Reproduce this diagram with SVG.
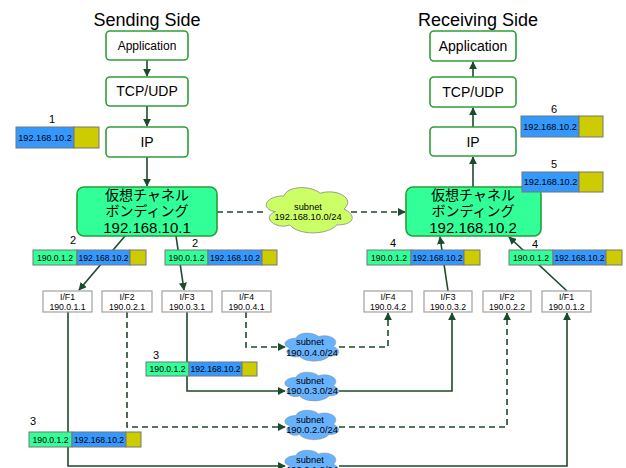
<svg xmlns="http://www.w3.org/2000/svg" width="626" height="468" viewBox="0 0 626 468">
<style>
text{font-family:"Liberation Sans","Noto Sans CJK JP",sans-serif;fill:#000;text-anchor:middle}
.title{font-size:18px}
.layer{fill:#fff;stroke:#2e9e3a;stroke-width:1.6}
.bond{fill:#33ff99;stroke:#22a03a;stroke-width:1.6}
.lt{font-size:12px}
.lt2{font-size:14px}
.jp{font-size:14px}
.pk{stroke:#777;stroke-width:1}
.g{fill:#33ff99}
.b{fill:#3399ff}
.y{fill:#cccc00}
.pt{font-size:9.2px}
.pt2{font-size:8.6px}
.num{font-size:11px}
.ifb{fill:#fff;stroke:#a0a0a0;stroke-width:1.2}
.it{font-size:8.7px}
.ct{font-size:9.3px}
.c{fill:none;stroke:#1c4a2c;stroke-width:1.6}
.d{stroke-dasharray:6 4}
.cg{fill:#ccff66;stroke:#888}
.cb{fill:#66b2ff;stroke:#888}
</style>
<defs>
<marker id="ar" viewBox="0 0 10 10" refX="9" refY="5" markerWidth="5" markerHeight="5" orient="auto" markerUnits="strokeWidth">
<path d="M0,0 L10,5 L0,10 z" fill="#1c4a2c"/>
</marker>
<path id="cloud" d="M 25 20 C 5 20 0 40 16 44 C 0 52.8 18 72 31 64 C 40 80 70 80 80 64 C 100 64 100 48 87.5 40 C 100 24 80 8 62.5 16 C 53.75 4 28.75 4 25 20 Z"/>
</defs>

<text class="title" x="147" y="26">Sending Side</text>
<text class="title" x="478" y="26">Receiving Side</text>

<g id="connectors">
<line class="c" x1="147" y1="60" x2="147" y2="76" marker-end="url(#ar)"/>
<line class="c" x1="147" y1="106" x2="147" y2="126" marker-end="url(#ar)"/>
<line class="c" x1="147" y1="157" x2="147" y2="186" marker-end="url(#ar)"/>
<line class="c" x1="473" y1="77" x2="473" y2="62" marker-end="url(#ar)"/>
<line class="c" x1="473" y1="127" x2="473" y2="108" marker-end="url(#ar)"/>
<line class="c" x1="473" y1="187" x2="473" y2="157" marker-end="url(#ar)"/>
<line class="c" x1="125" y1="236" x2="79" y2="290" marker-end="url(#ar)"/>
<line class="c" x1="176" y1="236" x2="184" y2="290" marker-end="url(#ar)"/>
<line class="c" x1="448" y1="291" x2="440" y2="237" marker-end="url(#ar)"/>
<line class="c" x1="567" y1="291" x2="509" y2="237" marker-end="url(#ar)"/>
<line class="c d" x1="217" y1="212" x2="266" y2="212"/>
<line class="c d" x1="351" y1="212" x2="405" y2="212" marker-end="url(#ar)"/>
<path class="c d" d="M246,312 V347 H285" marker-end="url(#ar)"/>
<path class="c d" d="M339,347 H388 V313" marker-end="url(#ar)"/>
<path class="c" d="M187,312 V391 H285" marker-end="url(#ar)"/>
<path class="c" d="M339,391 H452 V313" marker-end="url(#ar)"/>
<path class="c d" d="M127,312 V427 H285" marker-end="url(#ar)"/>
<path class="c d" d="M339,427 H507 V313" marker-end="url(#ar)"/>
<path class="c" d="M68,312 V466 H285" marker-end="url(#ar)"/>
<path class="c" d="M339,466 H567 V313" marker-end="url(#ar)"/>
</g>

<g id="s-app"><rect class="layer" x="106" y="31" width="82" height="29" rx="4"/><text class="lt" x="147" y="50">Application</text></g>
<g id="s-tcp"><rect class="layer" x="106" y="77" width="82" height="29" rx="4"/><text class="lt2" x="147" y="96">TCP/UDP</text></g>
<g id="s-ip"><rect class="layer" x="106" y="127" width="82" height="30" rx="4"/><text class="lt2" x="147" y="147">IP</text></g>
<g id="s-bond"><rect class="bond" x="77" y="187" width="140" height="49" rx="7"/>
<text class="jp" x="147" y="200">仮想チャネル</text><text class="jp" x="147" y="216">ボンディング</text><text class="jp" x="147" y="233" style="font-size:15px">192.168.10.1</text></g>

<g id="r-app"><rect class="layer" x="430" y="31" width="86" height="30" rx="4"/><text class="lt2" x="473" y="51">Application</text></g>
<g id="r-tcp"><rect class="layer" x="430" y="77" width="86" height="30" rx="4"/><text class="lt2" x="473" y="97">TCP/UDP</text></g>
<g id="r-ip"><rect class="layer" x="430" y="127" width="86" height="29" rx="4"/><text class="lt2" x="473" y="147">IP</text></g>
<g id="r-bond"><rect class="bond" x="406" y="187" width="135" height="49" rx="7"/>
<text class="jp" x="473" y="200">仮想チャネル</text><text class="jp" x="473" y="216">ボンディング</text><text class="jp" x="473" y="233" style="font-size:15px">192.168.10.2</text></g>

<g id="pkt1"><text class="num" x="52" y="123">1</text>
<rect class="pk b" x="16" y="127" width="58" height="21"/><rect class="pk y" x="74" y="127" width="25" height="21"/>
<text class="pt" x="45" y="141">192.168.10.2</text></g>
<g id="pkt6"><text class="num" x="554" y="113">6</text>
<rect class="pk b" x="521" y="116" width="58" height="21"/><rect class="pk y" x="579" y="116" width="24" height="21"/>
<text class="pt" x="550" y="130">192.168.10.2</text></g>
<g id="pkt5"><text class="num" x="554" y="168">5</text>
<rect class="pk b" x="522" y="172" width="57" height="20"/><rect class="pk y" x="579" y="172" width="24" height="20"/>
<text class="pt" x="550.5" y="185">192.168.10.2</text></g>

<g id="pkt2a"><text class="num" x="73" y="244">2</text>
<rect class="pk g" x="33" y="250" width="44" height="15"/><rect class="pk b" x="77" y="250" width="53" height="15"/><rect class="pk y" x="130" y="250" width="16" height="15"/>
<text class="pt2" x="55" y="260.5">190.0.1.2</text><text class="pt2" x="103.5" y="260.5">192.168.10.2</text></g>
<g id="pkt2b"><text class="num" x="195" y="247">2</text>
<rect class="pk g" x="165" y="250" width="43" height="15"/><rect class="pk b" x="208" y="250" width="54" height="15"/><rect class="pk y" x="262" y="250" width="15" height="15"/>
<text class="pt2" x="186.5" y="260.5">190.0.1.2</text><text class="pt2" x="235" y="260.5">192.168.10.2</text></g>
<g id="pkt4a"><text class="num" x="393" y="247">4</text>
<rect class="pk g" x="367" y="250" width="44" height="15"/><rect class="pk b" x="411" y="250" width="53" height="15"/><rect class="pk y" x="464" y="250" width="16" height="15"/>
<text class="pt2" x="389" y="260.5">190.0.1.2</text><text class="pt2" x="437.5" y="260.5">192.168.10.2</text></g>
<g id="pkt4b"><text class="num" x="535" y="248">4</text>
<rect class="pk g" x="509" y="250" width="44" height="15"/><rect class="pk b" x="553" y="250" width="53" height="15"/><rect class="pk y" x="606" y="250" width="16" height="15"/>
<text class="pt2" x="531" y="260.5">190.0.1.2</text><text class="pt2" x="579.5" y="260.5">192.168.10.2</text></g>
<g id="pkt3a"><text class="num" x="156" y="359">3</text>
<rect class="pk g" x="146" y="362" width="43" height="14"/><rect class="pk b" x="189" y="362" width="53" height="14"/><rect class="pk y" x="242" y="362" width="15" height="14"/>
<text class="pt2" x="167.5" y="372">190.0.1.2</text><text class="pt2" x="215.5" y="372">192.168.10.2</text></g>
<g id="pkt3b"><text class="num" x="33" y="425">3</text>
<rect class="pk g" x="29" y="432" width="43" height="15"/><rect class="pk b" x="72" y="432" width="54" height="15"/><rect class="pk y" x="126" y="432" width="15" height="15"/>
<text class="pt2" x="50.5" y="442.5">190.0.1.2</text><text class="pt2" x="99" y="442.5">192.168.10.2</text></g>

<g id="s-if1"><rect class="ifb" x="43" y="291" width="49" height="21"/><text class="it" x="67.5" y="299.5">I/F1</text><text class="it" x="67.5" y="309.5">190.0.1.1</text></g>
<g id="s-if2"><rect class="ifb" x="102" y="291" width="50" height="21"/><text class="it" x="127" y="299.5">I/F2</text><text class="it" x="127" y="309.5">190.0.2.1</text></g>
<g id="s-if3"><rect class="ifb" x="162" y="291" width="50" height="21"/><text class="it" x="187" y="299.5">I/F3</text><text class="it" x="187" y="309.5">190.0.3.1</text></g>
<g id="s-if4"><rect class="ifb" x="222" y="291" width="49" height="21"/><text class="it" x="246.5" y="299.5">I/F4</text><text class="it" x="246.5" y="309.5">190.0.4.1</text></g>
<g id="r-if4"><rect class="ifb" x="364" y="291" width="48" height="21"/><text class="it" x="388" y="299.5">I/F4</text><text class="it" x="388" y="309.5">190.0.4.2</text></g>
<g id="r-if3"><rect class="ifb" x="424" y="291" width="48" height="21"/><text class="it" x="448" y="299.5">I/F3</text><text class="it" x="448" y="309.5">190.0.3.2</text></g>
<g id="r-if2"><rect class="ifb" x="483" y="291" width="48" height="21"/><text class="it" x="507" y="299.5">I/F2</text><text class="it" x="507" y="309.5">190.0.2.2</text></g>
<g id="r-if1"><rect class="ifb" x="542" y="291" width="49" height="21"/><text class="it" x="566.5" y="299.5">I/F1</text><text class="it" x="566.5" y="309.5">190.0.1.2</text></g>

<g id="cloud-main"><use href="#cloud" class="cg" transform="translate(260,182.7) scale(0.96,0.66)"/>
<text class="ct" x="308" y="210">subnet</text><text class="ct" x="308" y="220">192.168.10.0/24</text></g>
<g id="cloud-4"><use href="#cloud" class="cb" transform="translate(281,330) scale(0.6,0.41)"/>
<text class="ct" x="310" y="345">subnet</text><text class="ct" x="312" y="356">190.0.4.0/24</text></g>
<g id="cloud-3"><use href="#cloud" class="cb" transform="translate(281,369) scale(0.6,0.42)"/>
<text class="ct" x="310" y="384">subnet</text><text class="ct" x="312" y="394">190.0.3.0/24</text></g>
<g id="cloud-2"><use href="#cloud" class="cb" transform="translate(281,407) scale(0.6,0.43)"/>
<text class="ct" x="310" y="423">subnet</text><text class="ct" x="312" y="433">190.0.2.0/24</text></g>
<g id="cloud-1"><use href="#cloud" class="cb" transform="translate(281,447) scale(0.6,0.43)"/>
<text class="ct" x="310" y="463">subnet</text><text class="ct" x="312" y="473">190.0.1.0/24</text></g>
</svg>
